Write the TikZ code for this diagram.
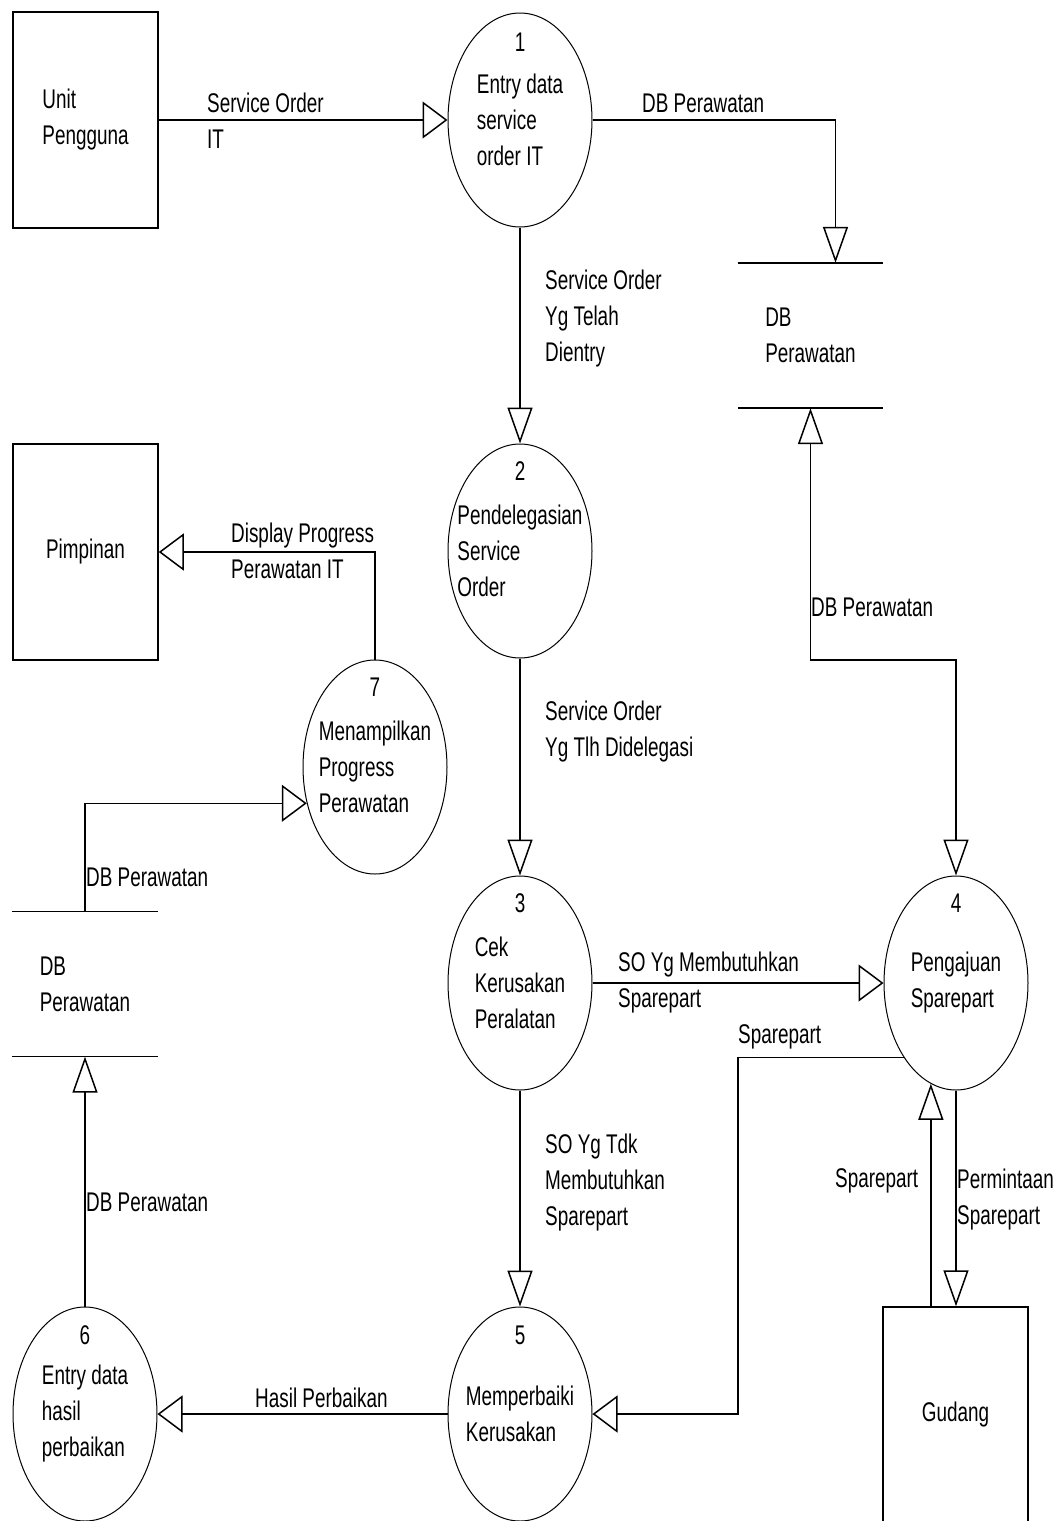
\documentclass[tikz,border=0pt]{standalone}
\usepackage{fontspec}
\setmainfont[FakeStretch=0.70]{Liberation Sans}
\usetikzlibrary{shapes.geometric,arrows.meta}

\begin{document}
\begin{tikzpicture}[x=1pt,y=-1pt,font=\fontsize{27pt}{36pt}\selectfont]
      \useasboundingbox (0,0) rectangle (1062,1521);
      \clip (0,0) rectangle (1062,1521);

      \tikzstyle{entity} = [
        rectangle,
        draw=black,
        line width=1.5pt,
        minimum width=145pt,
        minimum height=216pt,
        align=left
      ]
      \tikzstyle{process} = [
        ellipse,
        draw=black,
        line width=1pt,
        minimum width=144pt,
        minimum height=214pt,
        inner sep=0pt
      ]
      \tikzstyle{proctext} = [align=left, inner sep=0pt]
      \tikzstyle{procnum} = [inner sep=0pt]
      \tikzstyle{store} = [
        rectangle,
        draw=none,
        minimum width=145pt,
        minimum height=145pt,
        align=left
      ]
      \tikzstyle{flowlabel} = [draw=none, anchor=west, align=left, inner sep=0pt]

      \tikzstyle{storeline} = [line width=1.5pt]
      \tikzstyle{harrow} = [line width=1.5pt, -{Triangle[open,length=25pt,width=37pt]}]
      \tikzstyle{varrow} = [line width=1.5pt, -{Triangle[open,length=36pt,width=25pt]}]
      \tikzstyle{vboth} = [line width=1.5pt, {Triangle[open,length=36pt,width=25pt]}-{Triangle[open,length=36pt,width=25pt]}]

      % entities
      \node[entity] (unit) at (85.5,120) {Unit\\Pengguna};
      \node[entity] (pimpinan) at (85.5,552) {Pimpinan};
      \node[entity] (gudang) at (955.5,1415) {Gudang};

      % processes
      \node[process] (proc1) at (520,120) {};
      \node[procnum] (proc1Num) at ([yshift=-30pt] proc1.north) {1};
      \node[proctext] (proc1Text) at (proc1.center) {Entry data\\service\\order IT};

      \node[process] (proc2) at (520,551) {};
      \node[procnum] (proc2Num) at ([yshift=-28pt] proc2.north) {2};
      \node[proctext] (proc2Text) at (proc2.center) {Pendelegasian\\Service\\Order};

      \node[process] (proc3) at (520,983) {};
      \node[procnum] (proc3Num) at ([yshift=-28pt] proc3.north) {3};
      \node[proctext] (proc3Text) at (proc3.center) {Cek\\Kerusakan\\Peralatan};

      \node[process] (proc4) at (956,983) {};
      \node[procnum] (proc4Num) at ([yshift=-28pt] proc4.north) {4};
      \node[proctext] (proc4Text) at (proc4.center) {Pengajuan\\Sparepart};

      \node[process] (proc5) at (520,1414) {};
      \node[procnum] (proc5Num) at ([yshift=-29pt] proc5.north) {5};
      \node[proctext] (proc5Text) at (proc5.center) {Memperbaiki\\Kerusakan};

      \node[process] (proc6) at (85,1414) {};
      \node[procnum] (proc6Num) at ([yshift=-29pt] proc6.north) {6};
      \node[proctext] (proc6Text) at (proc6.center) {Entry data\\hasil\\perbaikan};

      \node[process] (proc7) at (375,767) {};
      \node[procnum] (proc7Num) at ([yshift=-28pt] proc7.north) {7};
      \node[proctext] (proc7Text) at (proc7.center) {Menampilkan\\Progress\\Perawatan};

      % data stores
      \node[store] (store1) at (810.5,335.5) {DB\\Perawatan};
      \draw[storeline] (store1.north west) -- (store1.north east);
      \draw[storeline] (store1.south west) -- (store1.south east);

      \node[store] (store2) at (85,984) {DB\\Perawatan};
      \draw[storeline] (store2.north west) -- (store2.north east);
      \draw[storeline] (store2.south west) -- (store2.south east);

      \coordinate (dbturn) at (956,660);
      \coordinate (spareturn) at (738,1414);

      % flows
      \draw[harrow] (unit.east) -- (proc1.west);
      \draw[varrow] (proc1.east) -| ([xshift=25pt] store1.north);
      \draw[varrow] (proc1.south) -- (proc2.north);
      \draw[varrow] (proc2.south) -- (proc3.north);
      \draw[harrow] (proc3.east) -- (proc4.west);
      \draw[vboth] (store1.south) |- (dbturn) -- (proc4.north);
      \draw[harrow] (proc4.235) -| (spareturn) -- (proc5.east);
      \draw[varrow] (proc4.south) -- (proc4.south |- gudang.north);
      \draw[varrow] (gudang.north -| proc4.256) -- (proc4.256);
      \draw[varrow] (proc3.south) -- (proc5.north);
      \draw[harrow] (proc5.west) -- (proc6.east);
      \draw[varrow] (proc6.north) -- (store2.south);
      \draw[harrow] (store2.north) |- (proc7.208);
      \draw[harrow] (proc7.north) |- (pimpinan.east);

      % flow labels
      \node[flowlabel] (lblServiceOrder) at (207,121) {Service Order\\IT};
      \node[flowlabel] (lblDbTop) at (642,103) {DB Perawatan};
      \node[flowlabel] (lblDientry) at (545,319) {Service Order\\Yg Telah\\Dientry};
      \node[flowlabel] (lblDidelegasi) at (545,732) {Service Order\\Yg Tlh Didelegasi};
      \node[flowlabel] (lblDisplay) at (231,551) {Display Progress\\Perawatan IT};
      \node[flowlabel] (lblDbRight) at (811,607) {DB Perawatan};
      \node[flowlabel] (lblButuh) at (618,983) {SO Yg Membutuhkan\\Sparepart};
      \node[flowlabel] (lblSpareBack) at (738,1037) {Sparepart};
      \node[flowlabel] (lblTdkButuh) at (545,1183) {SO Yg Tdk\\Membutuhkan\\Sparepart};
      \node[flowlabel] (lblSpareUp) at (835,1181) {Sparepart};
      \node[flowlabel] (lblPermintaan) at (957,1200) {Permintaan\\Sparepart};
      \node[flowlabel] (lblDbLeftTop) at (86,877) {DB Perawatan};
      \node[flowlabel] (lblDbLeftBottom) at (86,1202) {DB Perawatan};
      \node[flowlabel] (lblHasil) at (255,1398) {Hasil Perbaikan};
\end{tikzpicture}
\end{document}
